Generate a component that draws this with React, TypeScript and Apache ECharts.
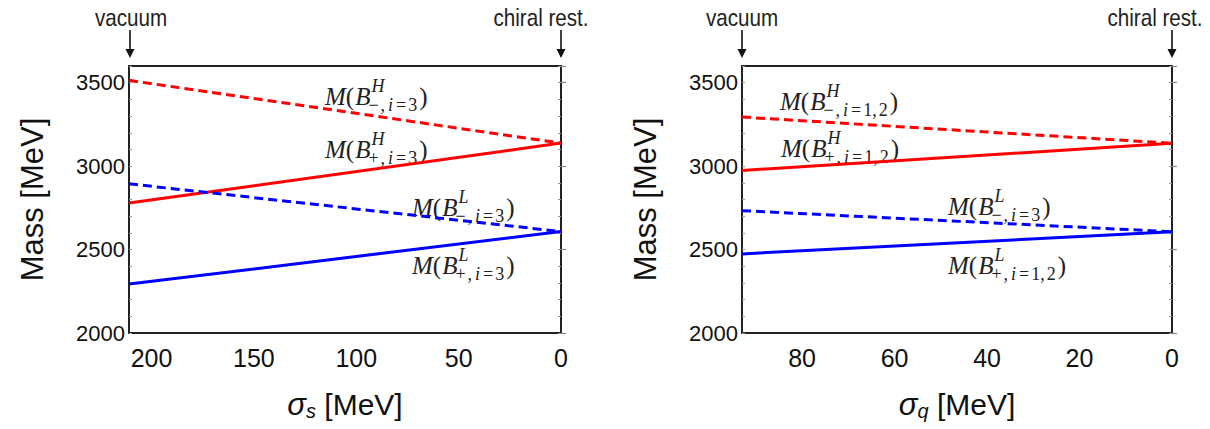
import React, { useEffect, useRef } from "react";
import * as echarts from "echarts";

// ---- data ----
const sigmaS = [211, 0];
const leftHminus = [3514, 3138];
const leftHplus = [2779, 3138];
const leftLminus = [2894, 2608];
const leftLplus = [2293, 2608];

const sigmaQ = [93, 0];
const rightHminus = [3294, 3137];
const rightHplus = [2974, 3137];
const rightLminus = [2733, 2607];
const rightLplus = [2474, 2607];

const yTicksMajor = 500;
const yTicksMinor = 100;
const yMin = 2000;
const yMax = 3600;

const RED = "#ff0000";
const BLUE = "#0000ff";
const SANS = "'Liberation Sans', Arial, sans-serif";
const SERIF = "'Liberation Serif', 'Times New Roman', serif";

const zip = (xs: number[], ys: number[]) => xs.map((x, i) => [x, ys[i]]);

let measureCtx: CanvasRenderingContext2D | null = null;
function textWidth(text: string, font: string): number {
  if (!measureCtx) {
    const c = document.createElement("canvas");
    measureCtx = c.getContext("2d");
  }
  if (!measureCtx) return text.length * 10;
  measureCtx.font = font;
  return measureCtx.measureText(text).width;
}

const MAIN = 25;
const SCRIPT = 18;

type Tok = { t: string; italic: boolean; pl: number; pr: number };

function mathLabel(x: number, yc: number, sup: string, sign: string, idx: string) {
  const itMain = `italic ${MAIN}px ${SERIF}`;
  const upMain = `${MAIN}px ${SERIF}`;
  const itScr = `italic ${SCRIPT}px ${SERIF}`;
  const upScr = `${SCRIPT}px ${SERIF}`;
  const w1 =
    textWidth("M", itMain) + textWidth("(", upMain) + 1 + textWidth("B", itMain);
  const wSup = textWidth(sup, itScr);
  const toks: Tok[] = [
    { t: sign, italic: false, pl: 0, pr: 2 },
    { t: ",", italic: false, pl: 0, pr: 3 },
    { t: "i", italic: true, pl: 0, pr: 1 },
    { t: "=", italic: false, pl: 2, pr: 2 },
    ...idx.split("").map((c) => ({ t: c, italic: false, pl: 0, pr: c === "," ? 2 : 0 })),
  ];
  const rich: Record<string, any> = {};
  let subText = "";
  let wSub = 0;
  toks.forEach((tk, k) => {
    const key = "k" + k;
    rich[key] = {
      fontSize: SCRIPT,
      fontFamily: SERIF,
      fontStyle: tk.italic ? "italic" : "normal",
      fill: "#222",
      padding: [0, tk.pr, 0, tk.pl],
    };
    subText += `{${key}|${tk.t}}`;
    wSub += textWidth(tk.t, tk.italic ? itScr : upScr) + tk.pl + tk.pr;
  });
  const base = {
    fill: "#222",
    verticalAlign: "middle",
    textVerticalAlign: "middle",
    align: "left",
    textAlign: "left",
  };
  return {
    type: "group",
    silent: true,
    children: [
      {
        type: "text",
        x,
        y: yc,
        style: {
          ...base,
          text: "{it|M}{up|(}{it|B}",
          rich: {
            it: { fontSize: MAIN, fontStyle: "italic", fontFamily: SERIF, fill: "#222" },
            up: { fontSize: MAIN, fontFamily: SERIF, fill: "#222", padding: [0, 1, 0, 0] },
          },
        },
      },
      {
        type: "text",
        x: x + w1 + 1,
        y: yc - 10,
        style: { ...base, text: sup, font: itScr },
      },
      {
        type: "text",
        x: x + w1 - 2,
        y: yc + 9,
        style: { ...base, text: subText, rich },
      },
      {
        type: "text",
        x: x + w1 - 2 + Math.max(wSup + 3, wSub) + 2,
        y: yc,
        style: { ...base, text: ")", font: upMain },
      },
    ],
  };
}

function arrow(x: number, label: string, labelCx: number) {
  return {
    type: "group",
    silent: true,
    children: [
      {
        type: "text",
        x: labelCx,
        y: 18,
        scaleX: 0.86,
        style: {
          text: label,
          fontSize: 24,
          fontFamily: SANS,
          fill: "#222",
          align: "center",
          textAlign: "center",
          verticalAlign: "middle",
          textVerticalAlign: "middle",
        },
      },
      {
        type: "line",
        shape: { x1: x, y1: 30, x2: x, y2: 52 },
        style: { stroke: "#111", lineWidth: 1.6 },
      },
      {
        type: "polygon",
        shape: { points: [[x - 4.5, 49], [x + 4.5, 49], [x, 58]] },
        style: { fill: "#111" },
      },
    ],
  };
}

function xAxisFor(grid: number, max: number, interval: number, sub: string) {
  return {
    gridIndex: grid,
    type: "value",
    min: 0,
    max,
    interval,
    inverse: true,
    axisLine: { show: false },
    axisTick: { show: false },
    splitLine: { show: false },
    axisLabel: {
      fontSize: 25,
      fontFamily: SANS,
      color: "#111",
      margin: 12,
      formatter: (v: number) => (v % interval === 0 ? String(v) : ""),
    },
    name: `{g|σ}{s|${sub}} [MeV]`,
    nameLocation: "middle",
    nameGap: 54,
    nameTextStyle: {
      fontSize: 30,
      fontFamily: SANS,
      color: "#111",
      lineHeight: 34,
      rich: {
        g: { fontSize: 31, fontStyle: "italic", fontFamily: SANS, color: "#111", lineHeight: 34 },
        s: { fontSize: 20, fontStyle: "italic", fontFamily: SANS, color: "#111", lineHeight: 16, verticalAlign: "bottom" },
      },
    },
  };
}

function yAxesFor(grid: number) {
  return [
    {
      gridIndex: grid,
      type: "value",
      min: yMin,
      max: yMax,
      interval: yTicksMajor,
      position: "left",
      axisLine: { show: false },
      axisTick: { show: true, inside: true, length: 5, lineStyle: { color: "#888", width: 1.2 } },
      splitLine: { show: false },
      axisLabel: {
        fontSize: 22,
        fontFamily: SANS,
        color: "#111",
        margin: 4,
        formatter: (v: number) => (v % yTicksMajor === 0 ? String(v) : ""),
      },
      name: "Mass [MeV]",
      nameLocation: "middle",
      nameGap: 81,
      nameRotate: 90,
      nameTextStyle: { fontSize: 31, fontFamily: SANS, color: "#111" },
    },
    {
      gridIndex: grid,
      type: "value",
      min: yMin,
      max: yMax,
      interval: yTicksMinor,
      position: "left",
      axisLine: { show: false },
      axisTick: { show: true, inside: true, length: 3, lineStyle: { color: "#999", width: 1 } },
      axisLabel: { show: false },
      splitLine: { show: false },
    },
    {
      gridIndex: grid,
      type: "value",
      min: yMin,
      max: yMax,
      interval: yTicksMinor,
      position: "right",
      axisLine: { show: false },
      axisTick: { show: true, inside: true, length: 3, lineStyle: { color: "#999", width: 1 } },
      axisLabel: { show: false },
      splitLine: { show: false },
    },
  ];
}

function lineSeries(xi: number, yi: number, xs: number[], ys: number[], color: string, dashed: boolean) {
  return {
    type: "line",
    xAxisIndex: xi,
    yAxisIndex: yi,
    data: zip(xs, ys),
    symbol: "none",
    silent: true,
    lineStyle: { color, width: 3, type: dashed ? [9, 5] : "solid" },
  };
}

export default function App() {
  const ref = useRef<HTMLDivElement>(null);
  useEffect(() => {
    if (!ref.current) return;
    const chart = echarts.init(ref.current, undefined, { renderer: "svg" });
    const gridStyle = { show: true, borderColor: "#222", borderWidth: 2, backgroundColor: "transparent" };
    chart.setOption({
      animation: false,
      backgroundColor: "#fff",
      grid: [
        { left: 129, top: 66, width: 432, height: 267, ...gridStyle },
        { left: 742, top: 66, width: 430, height: 267, ...gridStyle },
      ],
      xAxis: [xAxisFor(0, sigmaS[0], 50, "s"), xAxisFor(1, sigmaQ[0], 20, "q")],
      yAxis: [...yAxesFor(0), ...yAxesFor(1)],
      series: [
        lineSeries(0, 0, sigmaS, leftHminus, RED, true),
        lineSeries(0, 0, sigmaS, leftHplus, RED, false),
        lineSeries(0, 0, sigmaS, leftLminus, BLUE, true),
        lineSeries(0, 0, sigmaS, leftLplus, BLUE, false),
        lineSeries(1, 3, sigmaQ, rightHminus, RED, true),
        lineSeries(1, 3, sigmaQ, rightHplus, RED, false),
        lineSeries(1, 3, sigmaQ, rightLminus, BLUE, true),
        lineSeries(1, 3, sigmaQ, rightLplus, BLUE, false),
      ],
      graphic: [
        arrow(130, "vacuum", 131),
        arrow(561, "chiral rest.", 541),
        arrow(742, "vacuum", 742),
        arrow(1172, "chiral rest.", 1155),
        mathLabel(325, 96, "H", "−", "3"),
        mathLabel(325, 149, "H", "+", "3"),
        mathLabel(412, 207, "L", "−", "3"),
        mathLabel(412, 265, "L", "+", "3"),
        mathLabel(780, 101, "H", "−", "1,2"),
        mathLabel(781, 148, "H", "+", "1,2"),
        mathLabel(948, 206, "L", "−", "3"),
        mathLabel(948, 265, "L", "+", "1,2"),
      ],
    });
    return () => chart.dispose();
  }, []);
  return (
    <div
      ref={ref}
      style={{ position: "absolute", left: 0, top: 0, width: 1210, height: 429, background: "#fff" }}
    />
  );
}
